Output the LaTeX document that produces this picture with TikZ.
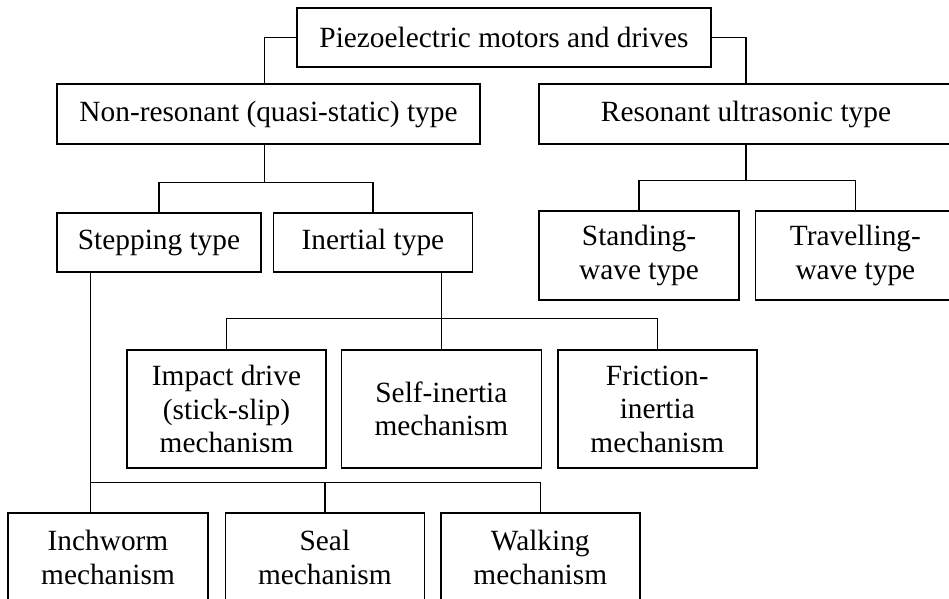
\documentclass[tikz,border=0pt]{standalone}
\usepackage{fontspec}
\setmainfont{Liberation Serif}
\usepackage{tikz}
\usetikzlibrary{positioning, calc}

\begin{document}
\begin{tikzpicture}[
  block/.style = {draw, line width=0.7pt, minimum height=29.5pt, align=center,
                  inner sep=0pt, font=\fontsize{14.67pt}{16.75pt}\selectfont},
  link/.style = {line width=0.7pt},
  node distance=7.5pt
]
  \useasboundingbox (0,0) rectangle (474.5pt,-299.5pt);
  \clip (0,0) rectangle (474.5pt,-299.5pt);

  % Root
  \node[block, minimum width=207pt] (piezo) at (252pt,-18.75pt) {Piezoelectric motors and drives};

  % Main types
  \node[block, minimum width=211.5pt, minimum height=30pt] (nonres) at (134.25pt,-57pt) {Non-resonant (quasi-static) type};
  \node[block, minimum width=207pt, minimum height=30pt] (reson) at (373pt,-57pt) {Resonant ultrasonic type};

  % Non-resonant subtypes
  \node[block, minimum width=102pt] (stepping) at (79.5pt,-121.25pt) {Stepping type};
  \node[block, minimum width=99.5pt, right=5.5pt of stepping] (inertial) {Inertial type};

  % Resonant subtypes
  \node[block, minimum width=100pt, minimum height=44.5pt] (standing) at (319.5pt,-127.75pt) {Standing-\\wave type};
  \node[block, minimum width=100pt, minimum height=44.5pt, right=of standing] (travelling) {Travelling-\\wave type};

  % Inertial mechanisms
  \node[block, minimum width=99.5pt, minimum height=59pt] (impact) at (113.25pt,-204.5pt) {Impact drive\\(stick-slip)\\mechanism};
  \node[block, minimum width=100pt, minimum height=59pt, right=7pt of impact] (selfin) {Self-inertia\\mechanism};
  \node[block, minimum width=99.5pt, minimum height=59pt, right=of selfin] (friction) {Friction-\\inertia\\mechanism};

  % Stepping mechanisms
  \node[block, minimum width=100pt, minimum height=44.5pt] (inchworm) at (54pt,-278.75pt) {Inchworm\\mechanism};
  \node[block, minimum width=99.5pt, minimum height=44.5pt, right=8pt of inchworm] (seal) {Seal\\mechanism};
  \node[block, minimum width=99.5pt, minimum height=44.5pt, right=of seal] (walking) {Walking\\mechanism};

  % root -> main types
  \coordinate (nonresin) at ([xshift=-2pt]nonres.north);
  \draw[link] (piezo.west) -| (nonresin);
  \draw[link] (piezo.east) -| (reson.north);

  % non-resonant -> stepping, inertial
  \draw[link] ([xshift=-2pt]nonres.south) -- ++(0,-19pt) coordinate (typebus);
  \draw[link] (stepping.north) |- (typebus) -| (inertial.north);

  % resonant -> standing, travelling
  \draw[link] (reson.south) -- ++(0,-18pt) coordinate (wavebus);
  \draw[link] (standing.north) |- (wavebus) -| (travelling.north);

  % inertial -> mechanisms
  \coordinate (mechbus) at ([yshift=15.5pt]selfin.north);
  \draw[link] (inertial.south -| selfin.north) -- (selfin.north);
  \draw[link] (impact.north) |- (mechbus) -| (friction.north);

  % stepping -> mechanisms
  \coordinate (stepdrop) at ([xshift=17pt]stepping.south west);
  \coordinate (stepbus) at ([yshift=15pt]seal.north);
  \draw[link] (stepdrop) -- (stepdrop |- inchworm.north);
  \draw[link] (stepdrop |- stepbus) -| (walking.north);
  \draw[link] (stepbus) -- (seal.north);

\end{tikzpicture}
\end{document}
